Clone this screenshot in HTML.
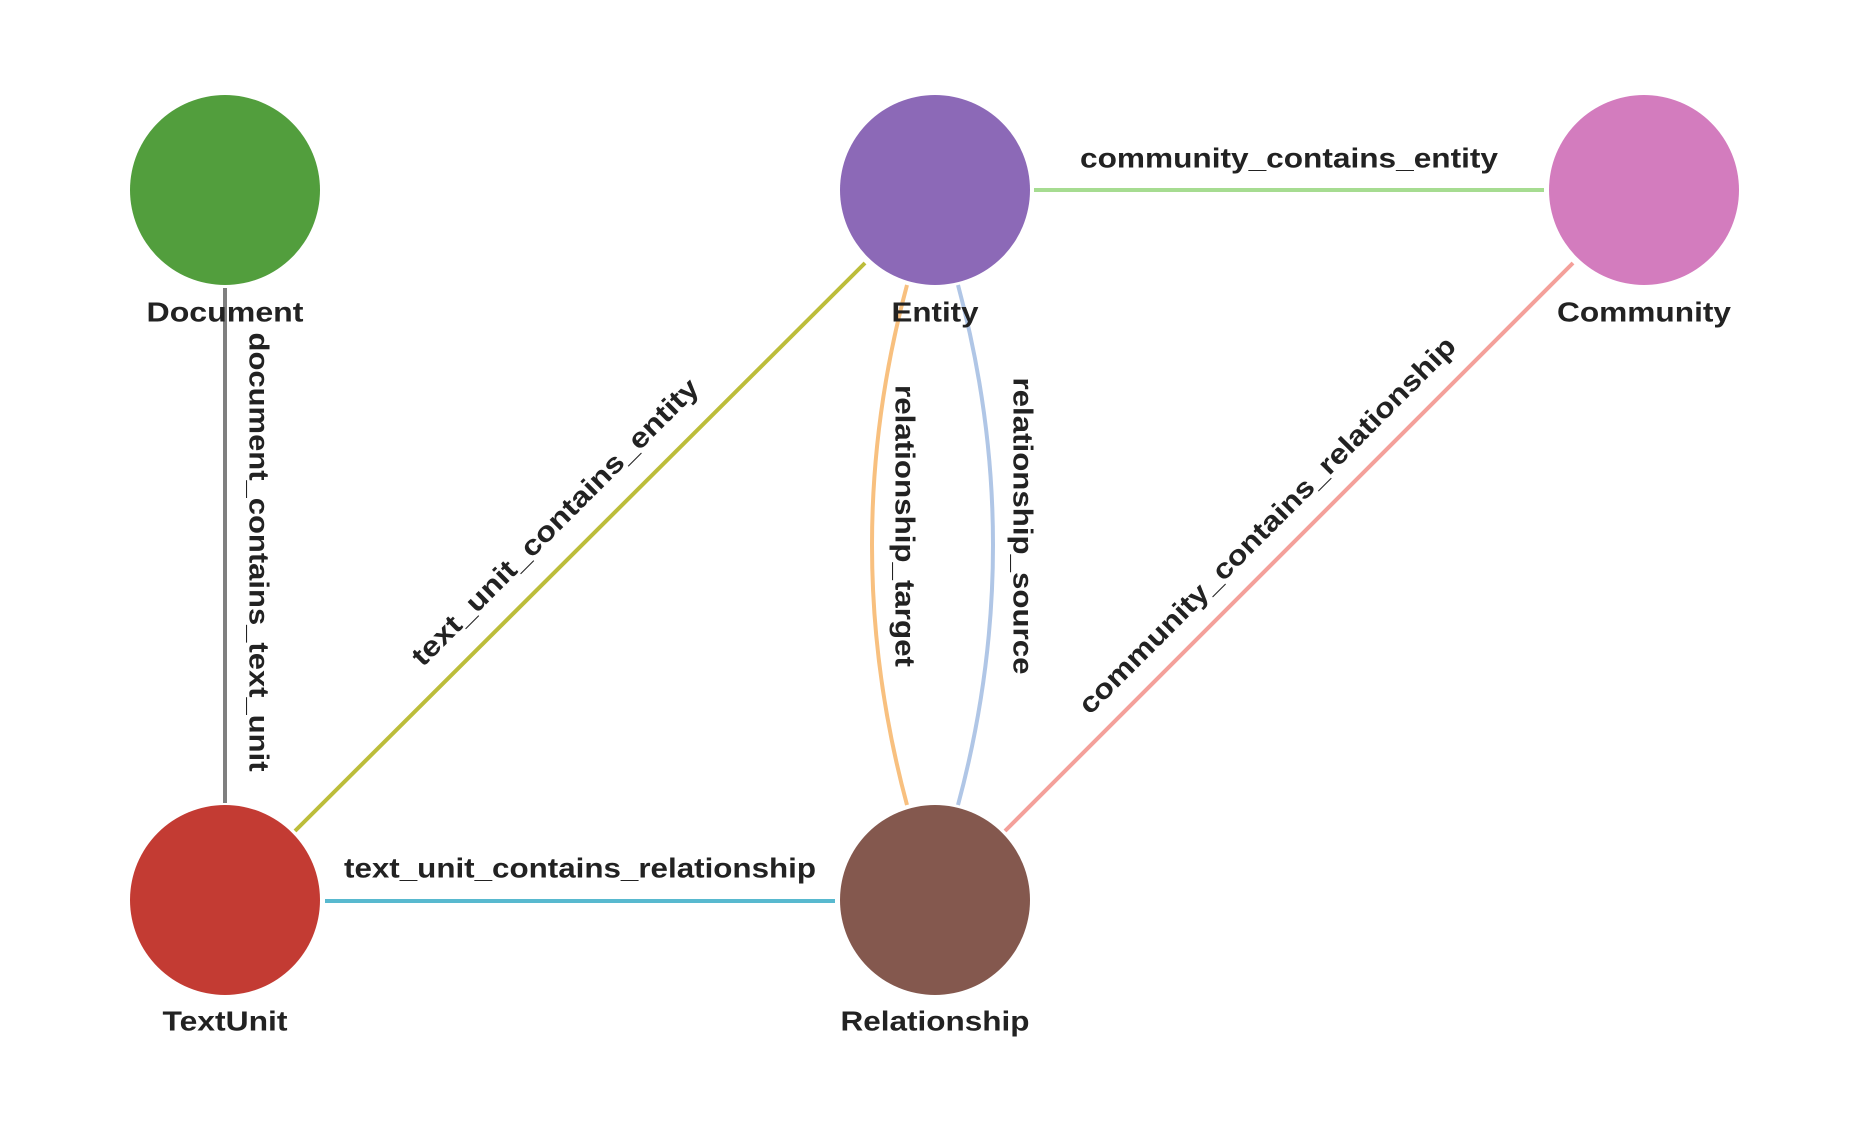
<!DOCTYPE html>
<html><head><meta charset="utf-8"><style>
html,body{margin:0;padding:0;background:#fff;}
svg{display:block;}
text{font-family:"Liberation Sans",Arial,sans-serif;font-weight:bold;font-size:28px;fill:#222;}
</style></head><body>
<svg width="1854" height="1142" viewBox="0 0 1854 1142" xmlns="http://www.w3.org/2000/svg">
<g fill="none" stroke-width="4">
<line x1="225" y1="288" x2="225" y2="803" stroke="#7f7f7f"/>
<line x1="1034" y1="190" x2="1544" y2="190" stroke="#a6dc91"/>
<line x1="325" y1="901" x2="835" y2="901" stroke="#58b9cf"/>
<line x1="295" y1="831" x2="865" y2="263" stroke="#bcbd3a"/>
<line x1="1573" y1="263" x2="1005" y2="831" stroke="#f4a09a"/>
<path d="M907 285 Q837 545 907 805" stroke="#f8c07f"/>
<path d="M958 285 Q1028 545 958 805" stroke="#b0c6e6"/>
</g>
<circle cx="225" cy="190" r="95" fill="#529e3d"/>
<circle cx="935" cy="190" r="95" fill="#8c69b7"/>
<circle cx="1644" cy="190" r="95" fill="#d37cbe"/>
<circle cx="225" cy="900" r="95" fill="#c33b33"/>
<circle cx="935" cy="900" r="95" fill="#84584e"/>
<g text-anchor="middle" dominant-baseline="central">
<text x="225" y="312" textLength="157" lengthAdjust="spacingAndGlyphs">Document</text>
<text x="935" y="312" textLength="87" lengthAdjust="spacingAndGlyphs">Entity</text>
<text x="1644" y="312" textLength="174" lengthAdjust="spacingAndGlyphs">Community</text>
<text x="225" y="1021" textLength="125" lengthAdjust="spacingAndGlyphs">TextUnit</text>
<text x="935" y="1021" textLength="189" lengthAdjust="spacingAndGlyphs">Relationship</text>
<text x="1289" y="158" textLength="418" lengthAdjust="spacingAndGlyphs">community_contains_entity</text>
<text x="580" y="868" textLength="472" lengthAdjust="spacingAndGlyphs">text_unit_contains_relationship</text>
<text transform="translate(259,552) rotate(90)" textLength="439" lengthAdjust="spacingAndGlyphs">document_contains_text_unit</text>
<text transform="translate(905,526) rotate(90)" textLength="282" lengthAdjust="spacingAndGlyphs">relationship_target</text>
<text transform="translate(1023,526) rotate(90)" textLength="297" lengthAdjust="spacingAndGlyphs">relationship_source</text>
<text transform="translate(555,522) rotate(-45)" textLength="393" lengthAdjust="spacingAndGlyphs">text_unit_contains_entity</text>
<text transform="translate(1267,525) rotate(-45)" textLength="520" lengthAdjust="spacingAndGlyphs">community_contains_relationship</text>
</g>
</svg>
</body></html>
